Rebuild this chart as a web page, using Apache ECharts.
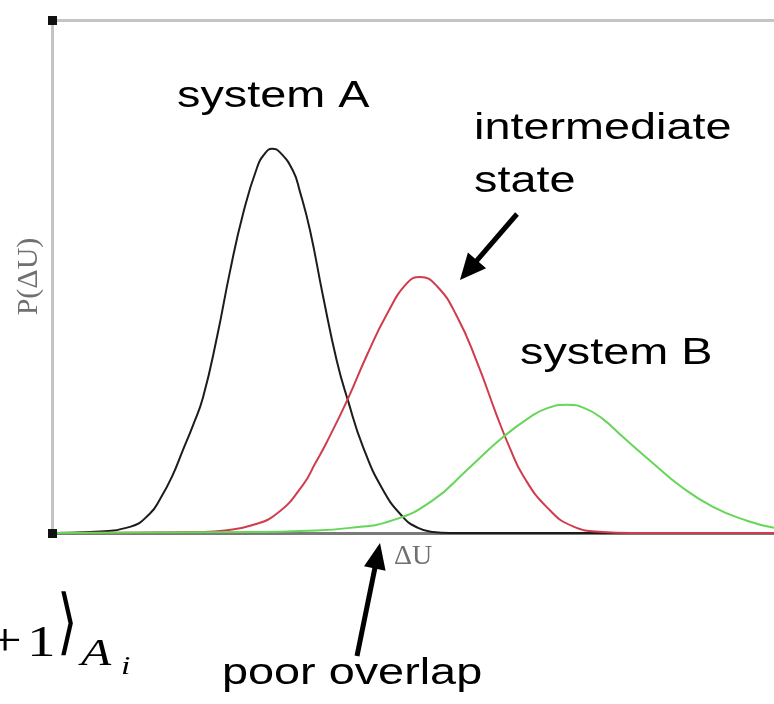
<!DOCTYPE html>
<html>
<head>
<meta charset="utf-8">
<script src="https://cdn.jsdelivr.net/npm/echarts@6/dist/echarts.min.js"></script>
<style>
  html, body { margin: 0; padding: 0; background: #ffffff; }
  #chart { width: 774px; height: 704px; }
</style>
</head>
<body>
<div id="chart"></div>
<script>
// Energy-difference distributions, ΔU in arbitrary units, P(ΔU) relative
const systemA = [
  [0, 0], [38, 0.002], [78, 0.012], [98, 0.038], [108, 0.066], [120, 0.110],
  [131, 0.162], [141, 0.210], [151, 0.264], [165, 0.382], [178, 0.510],
  [191, 0.622], [205, 0.712], [213, 0.740], [220, 0.749], [228, 0.742],
  [241, 0.706], [248, 0.665], [258, 0.590], [271, 0.462], [285, 0.334],
  [296, 0.258], [311, 0.168], [331, 0.084], [351, 0.031], [366, 0.010],
  [381, 0.002], [398, 0], [722, 0]
];
const intermediate = [
  [0, 0], [148, 0.002], [173, 0.005], [198, 0.014], [225, 0.038], [251, 0.094],
  [263, 0.135], [275, 0.178], [296, 0.262], [315, 0.347], [335, 0.427],
  [355, 0.487], [368, 0.499], [385, 0.481], [405, 0.422], [425, 0.333],
  [445, 0.228], [458, 0.165], [471, 0.112], [495, 0.050], [521, 0.013],
  [551, 0.002], [578, 0], [722, 0]
];
const systemB = [
  [0, 0], [198, 0.002], [248, 0.004], [298, 0.010], [341, 0.025], [381, 0.064],
  [415, 0.123], [451, 0.187], [478, 0.226], [496, 0.244], [515, 0.250],
  [533, 0.243], [551, 0.222], [571, 0.187], [601, 0.136], [628, 0.092],
  [661, 0.051], [695, 0.024], [722, 0.010]
];

const chart = echarts.init(document.getElementById('chart'));

const LABEL_FONT = 'Liberation Sans, Arial, sans-serif';
const SERIF = 'Liberation Serif, DejaVu Serif, serif';

function label(text, x, y) {
  return {
    type: 'text', x: x, y: y, scaleX: 1.3, z: 10,
    style: { text: text, x: 0, y: 0, font: '36px ' + LABEL_FONT, fill: '#000',
             textAlign: 'left', textVerticalAlign: 'middle' }
  };
}

function mathText(text, x, y, font, align) {
  return {
    type: 'text', x: x, y: y, scaleX: 1.3, z: 10,
    style: { text: text, x: 0, y: 0, font: font, fill: '#000',
             textAlign: align || 'left', textVerticalAlign: 'bottom' }
  };
}

function arrow(x1, y1, x2, y2, headLen, headW, width) {
  const dx = x2 - x1, dy = y2 - y1, len = Math.hypot(dx, dy);
  const ux = dx / len, uy = dy / len, px = -uy, py = ux;
  const bx = x2 - ux * headLen, by = y2 - uy * headLen;
  return [
    { type: 'line', z: 10, shape: { x1: x1, y1: y1, x2: bx + ux * 2, y2: by + uy * 2 },
      style: { stroke: '#000', lineWidth: width } },
    { type: 'polygon', z: 10, shape: { points: [[x2, y2],
        [bx + px * headW / 2, by + py * headW / 2], [bx - px * headW / 2, by - py * headW / 2]] },
      style: { fill: '#000' } }
  ];
}

const curve = (name, data, color, z) => ({
  name: name, type: 'line', data: data, smooth: 0.5,
  showSymbol: false, z: z, lineStyle: { color: color, width: 2 }
});

chart.setOption({
  backgroundColor: '#ffffff',
  animation: false,
  grid: { left: 52, top: 20, right: 0, bottom: 171, containLabel: false },
  xAxis: [{
    type: 'value', min: 0, max: 722, position: 'bottom',
    name: 'ΔU', nameLocation: 'middle', nameGap: 10,
    nameTextStyle: { fontFamily: SERIF, fontSize: 28, color: '#707070', verticalAlign: 'top' },
    axisLine: { show: true, lineStyle: { color: '#7a7a7a', width: 3 } },
    axisTick: { show: false }, axisLabel: { show: false }, splitLine: { show: false }
  }, {
    type: 'value', min: 0, max: 722, position: 'top',
    axisLine: { show: true, lineStyle: { color: '#c4c4c4', width: 3 } },
    axisTick: { show: false }, axisLabel: { show: false }, splitLine: { show: false }
  }],
  yAxis: {
    type: 'value', min: 0, max: 1,
    name: 'P(ΔU)', nameLocation: 'middle', nameGap: 8, nameRotate: 90,
    nameTextStyle: { fontFamily: SERIF, fontSize: 30, color: '#707070', verticalAlign: 'bottom' },
    axisLine: { show: true, lineStyle: { color: '#c4c4c4', width: 3 } },
    axisTick: { show: false }, axisLabel: { show: false }, splitLine: { show: false }
  },
  series: [
    curve('system A', systemA, '#1c1c1c', 3),
    curve('intermediate state', intermediate, '#d03c4c', 4),
    curve('system B', systemB, '#66d658', 5)
  ],
  graphic: [
    { type: 'rect', z: 20, shape: { x: 48, y: 16, width: 9, height: 9 }, style: { fill: '#111' } },
    { type: 'rect', z: 20, shape: { x: 48, y: 529, width: 9, height: 9 }, style: { fill: '#111' } },
    label('system A', 177, 97),
    label('intermediate', 474, 129),
    label('state', 474, 182),
    label('system B', 520, 354),
    label('poor overlap', 222, 674),
    ...arrow(517, 214, 460, 280, 26, 24, 5),
    ...arrow(357, 656, 380, 543, 26, 22, 5),
    mathText('+', 22, 666, '46px ' + SERIF, 'right'),
    mathText('1', 27, 666, '44px ' + SERIF, 'left'),
    { type: 'text', z: 10, x: 57, y: 627, scaleY: 1.5, scaleX: 1.1,
      style: { text: '⟩', font: '48px DejaVu Sans', fill: '#000', textAlign: 'left', textVerticalAlign: 'middle' } },
    mathText('A', 81, 674, 'italic 38px ' + SERIF, 'left'),
    mathText('i', 121, 680, 'italic 26px ' + SERIF, 'left')
  ]
});
</script>
</body>
</html>
